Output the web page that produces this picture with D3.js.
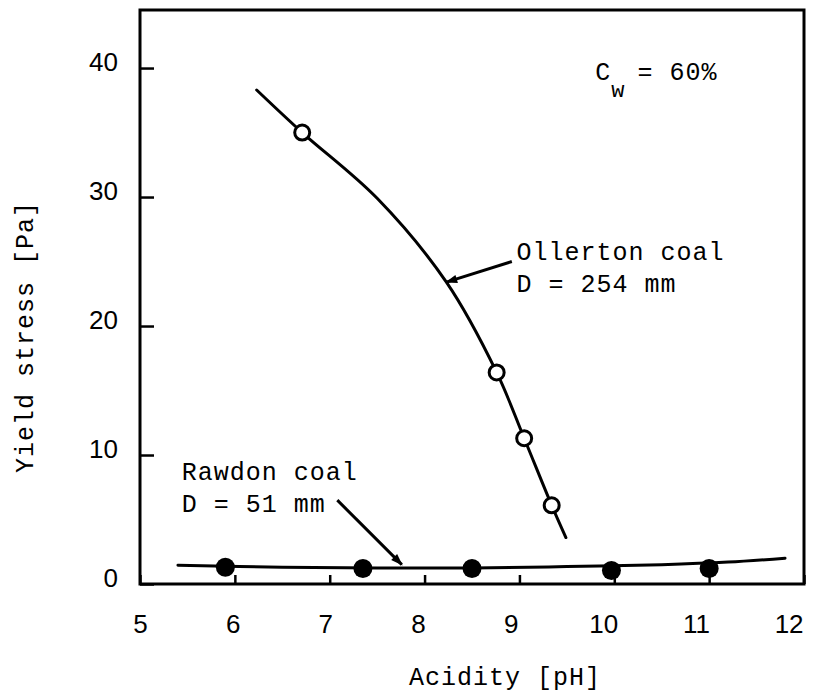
<!DOCTYPE html>
<html>
<head>
<meta charset="utf-8">
<script src="https://cdn.jsdelivr.net/npm/d3@7"></script>
<style>
  body { margin: 0; background: #fff; }
  svg { display: block; }
  .tick text { font-family: "Liberation Sans", Arial, sans-serif; font-size: 26px; fill: #000; }
  .mono { font-family: "Liberation Mono", "DejaVu Sans Mono", monospace; font-size: 25px; fill: #000; letter-spacing: 1px; }
</style>
</head>
<body>
<div id="chartDiv"></div>
<script>
// x ticks / y ticks
let xTicks = [5, 6, 7, 8, 9, 10, 11, 12];
let yTicks = [0, 10, 20, 30, 40];

// Ollerton coal, D = 254 mm (open circles)
let ollertonPH = [6.71, 8.76, 9.05, 9.34];
let ollertonStress = [35.0, 16.4, 11.3, 6.1];
// fitted curve
let ollertonCurvePH = [6.23, 6.71, 7.5, 8.23, 8.76, 9.05, 9.34, 9.49];
let ollertonCurveStress = [38.3, 35.0, 29.9, 23.4, 16.4, 11.3, 6.1, 3.6];

// Rawdon coal, D = 51 mm (filled dots)
let rawdonPH = [5.9, 7.35, 8.5, 9.97, 11.0];
let rawdonStress = [1.3, 1.2, 1.2, 1.05, 1.2];
let rawdonCurvePH = [5.4, 6.5, 7.5, 8.5, 9.5, 10.5, 11.2, 11.8];
let rawdonCurveStress = [1.45, 1.3, 1.25, 1.25, 1.35, 1.5, 1.7, 2.0];

let width = 823, height = 697;
let plotLeft = 140, plotRight = 804, plotTop = 10, plotBottom = 584;

let svg = d3.select("#chartDiv")
  .append("svg")
  .attr("width", width)
  .attr("height", height);

let xScale = d3.scaleLinear().domain([5, 12]).range([plotLeft, plotRight]);
let yScale = d3.scaleLinear().domain([0, 44.5]).range([plotBottom, plotTop]);

// frame
svg.append("rect")
  .attr("x", plotLeft).attr("y", plotTop)
  .attr("width", plotRight - plotLeft).attr("height", plotBottom - plotTop)
  .attr("fill", "none")
  .attr("stroke", "#000")
  .attr("stroke-width", 3);

let xAxis = d3.axisBottom(xScale).tickValues(xTicks).tickFormat(d3.format("d"))
  .tickSize(-9).tickPadding(31);
let gx = svg.append("g")
  .attr("transform", "translate(0," + plotBottom + ")")
  .call(xAxis);
gx.select(".domain").remove();
gx.selectAll(".tick line").attr("stroke", "#000").attr("stroke-width", 2.5);
// printed labels sit a little left of their ticks towards the right end
gx.selectAll(".tick text").attr("dx", function(d){ return -(d - 5) * 2.2; });

let yAxis = d3.axisLeft(yScale).tickValues(yTicks).tickFormat(d3.format("d"))
  .tickSize(-14).tickPadding(22);
let gy = svg.append("g")
  .attr("transform", "translate(" + plotLeft + ",0)")
  .call(yAxis);
gy.select(".domain").remove();
gy.selectAll(".tick line").attr("stroke", "#000").attr("stroke-width", 2.5);
gy.selectAll(".tick text").attr("dy", "0.1em");

// curves
let line = d3.line()
  .x(function(d){ return xScale(d[0]); })
  .y(function(d){ return yScale(d[1]); })
  .curve(d3.curveCatmullRom.alpha(0.5));

let ollCurve = d3.zip(ollertonCurvePH, ollertonCurveStress);
let rawCurve = d3.zip(rawdonCurvePH, rawdonCurveStress);

svg.selectAll(".fit")
  .data([ollCurve, rawCurve])
  .enter().append("path")
  .attr("class", "fit")
  .attr("d", line)
  .attr("fill", "none")
  .attr("stroke", "#000")
  .attr("stroke-width", 3)
  .attr("stroke-linecap", "round");

// points
svg.selectAll(".open")
  .data(d3.zip(ollertonPH, ollertonStress))
  .enter().append("circle")
  .attr("class", "open")
  .attr("cx", function(d){ return xScale(d[0]); })
  .attr("cy", function(d){ return yScale(d[1]); })
  .attr("r", 7.5)
  .attr("fill", "#fff")
  .attr("stroke", "#000")
  .attr("stroke-width", 3);

svg.selectAll(".filled")
  .data(d3.zip(rawdonPH, rawdonStress))
  .enter().append("circle")
  .attr("class", "filled")
  .attr("cx", function(d){ return xScale(d[0]); })
  .attr("cy", function(d){ return yScale(d[1]); })
  .attr("r", 9.5)
  .attr("fill", "#000");

// arrows
svg.append("defs").append("marker")
  .attr("id", "head")
  .attr("viewBox", "0 0 10 10")
  .attr("refX", 9).attr("refY", 5)
  .attr("markerWidth", 6).attr("markerHeight", 4)
  .attr("orient", "auto")
  .attr("markerUnits", "strokeWidth")
  .append("path")
  .attr("d", "M0,1.5 L10,5 L0,8.5 Z")
  .attr("fill", "#000");

let arrows = [
  [[8.92, 25.0], [8.23, 23.4]],
  [[7.08, 6.5], [7.76, 1.5]]
];
svg.selectAll(".arrow")
  .data(arrows)
  .enter().append("line")
  .attr("class", "arrow")
  .attr("x1", function(d){ return xScale(d[0][0]); })
  .attr("y1", function(d){ return yScale(d[0][1]); })
  .attr("x2", function(d){ return xScale(d[1][0]); })
  .attr("y2", function(d){ return yScale(d[1][1]); })
  .attr("stroke", "#000")
  .attr("stroke-width", 3)
  .attr("marker-end", "url(#head)");

// labels
let notes = [
  ["Ollerton coal", 8.97, 25.1],
  ["D = 254 mm", 8.97, 22.6],
  ["Rawdon coal", 5.44, 8.1],
  ["D = 51 mm", 5.44, 5.6]
];
svg.selectAll(".note")
  .data(notes)
  .enter().append("text")
  .attr("class", "mono note")
  .attr("x", function(d){ return xScale(d[1]); })
  .attr("y", function(d){ return yScale(d[2]); })
  .attr("xml:space", "preserve")
  .text(function(d){ return d[0]; });

let cw = svg.append("text")
  .attr("class", "mono")
  .attr("x", xScale(9.8))
  .attr("y", yScale(39.1));
cw.append("tspan").text("C");
cw.append("tspan").attr("dy", 17).attr("font-size", 22).text("w");
cw.append("tspan").attr("dy", -17).attr("dx", 12).text("= 60%");

svg.append("text")
  .attr("class", "mono")
  .attr("text-anchor", "middle")
  .attr("x", 505).attr("y", 685)
  .text("Acidity [pH]");

svg.append("text")
  .attr("class", "mono")
  .attr("text-anchor", "middle")
  .attr("transform", "translate(33,337) rotate(-90)")
  .text("Yield stress [Pa]");
</script>
</body>
</html>
